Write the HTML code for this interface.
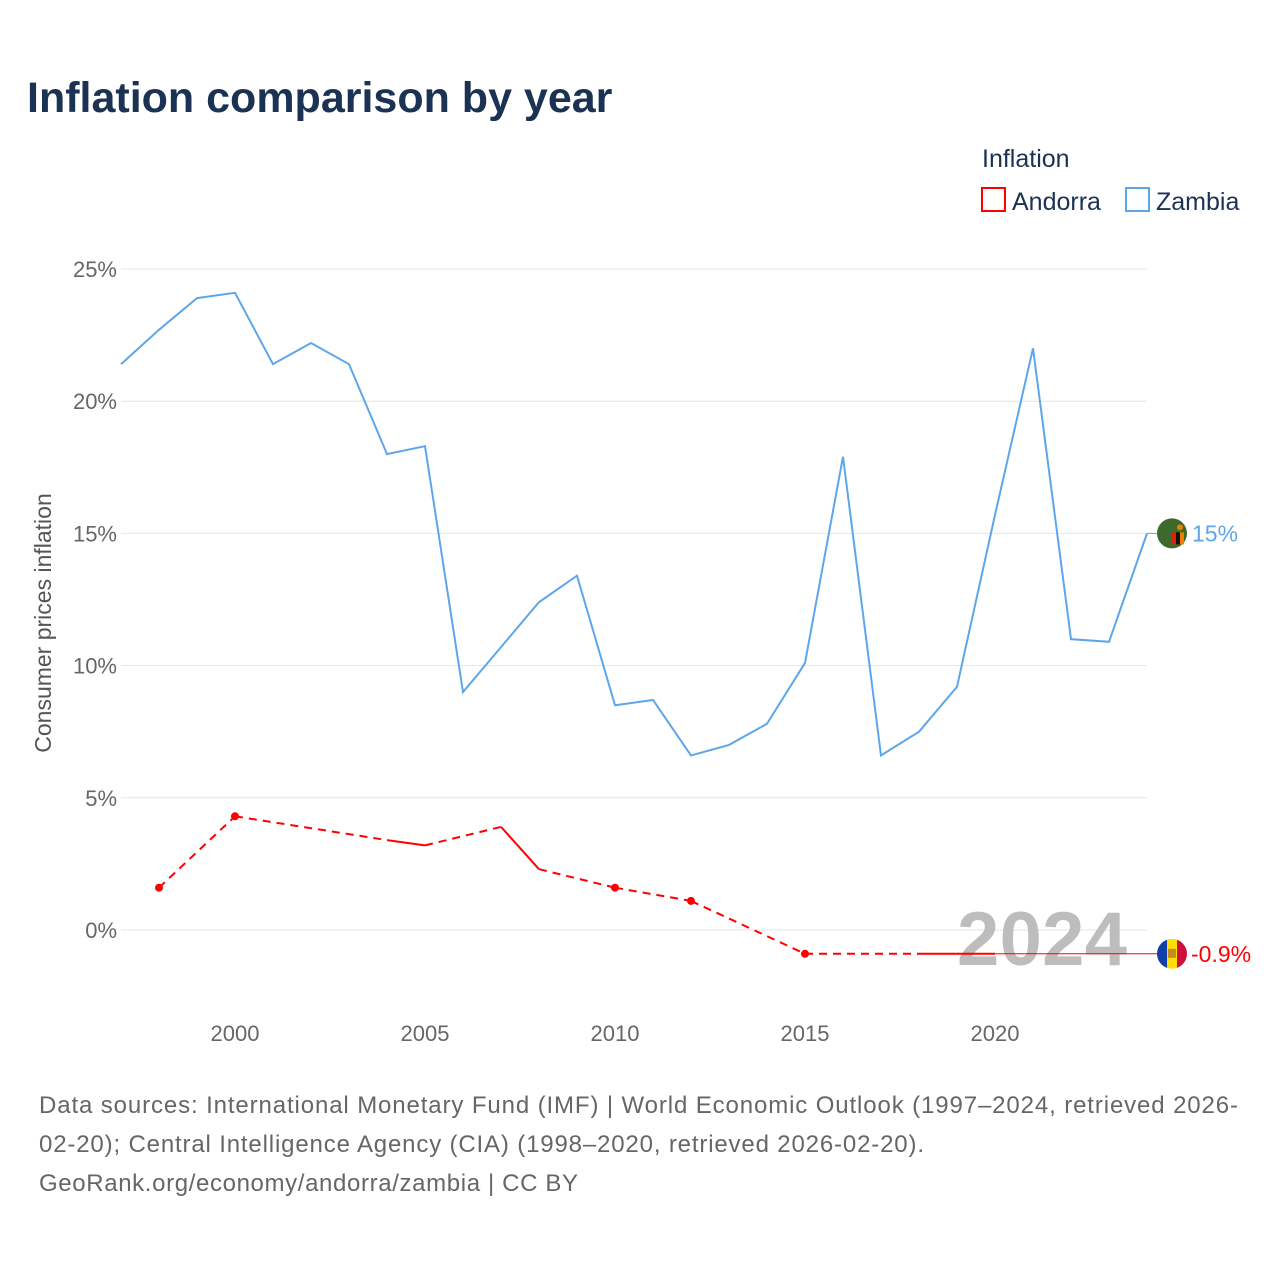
<!DOCTYPE html>
<html><head><meta charset="utf-8"><style>
body{margin:0;background:#fff;font-family:"Liberation Sans",sans-serif;}
#wrap{position:relative;width:1280px;height:1280px;overflow:hidden;}
</style></head><body>
<div id="wrap">
<svg id="chart" width="1280" height="1280">
<text x="27" y="112" font-size="43" font-weight="bold" fill="#1b3254">Inflation comparison by year</text>
<g>
<text x="982" y="167" font-size="25" fill="#1b3254">Inflation</text>
<g><rect x="982" y="188" width="23" height="23" fill="none" stroke="#ff0000" stroke-width="2"/><text x="1012" y="210" font-size="25" fill="#1b3254">Andorra</text></g>
<g><rect x="1126" y="188" width="23" height="23" fill="none" stroke="#5ea6ea" stroke-width="2"/><text x="1156" y="210" font-size="25" fill="#1b3254">Zambia</text></g>
</g>
<g id="grid"></g><g id="axes"></g>
<text x="1127" y="965" font-size="76" font-weight="bold" fill="#bdbdbd" text-anchor="end" textLength="170">2024</text>
<g id="series"></g>
<text transform="translate(51,623) rotate(-90)" font-size="23" fill="#555" text-anchor="middle">Consumer prices inflation</text>
<g font-size="24" fill="#666">
<text x="39" y="1113" textLength="1199">Data sources: International Monetary Fund (IMF) | World Economic Outlook (1997–2024, retrieved 2026-</text>
<text x="39" y="1152" textLength="885">02-20); Central Intelligence Agency (CIA) (1998–2020, retrieved 2026-02-20).</text>
<text x="39" y="1191" textLength="539">GeoRank.org/economy/andorra/zambia | CC BY</text>
</g>
</svg>
</div>
<script>
const yTicks=[0,5,10,15,20,25];
const xTicks=[2000,2005,2010,2015,2020];
const zambiaYears=[1997,1998,1999,2000,2001,2002,2003,2004,2005,2006,2007,2008,2009,2010,2011,2012,2013,2014,2015,2016,2017,2018,2019,2020,2021,2022,2023,2024];
const zambiaValues=[21.4,22.7,23.9,24.1,21.4,22.2,21.4,18.0,18.3,9.0,10.7,12.4,13.4,8.5,8.7,6.6,7.0,7.8,10.1,17.9,6.6,7.5,9.2,15.7,22.0,11.0,10.9,15.0];
const andorraYears=[1998,2000,2004,2005,2007,2008,2010,2012,2015,2018,2019,2020];
const andorraValues=[1.6,4.3,3.4,3.2,3.9,2.3,1.6,1.1,-0.9,-0.9,-0.9,-0.9];
const NS='http://www.w3.org/2000/svg';
const X=y=>121+(y-1997)*38;
const Y=v=>930-v*26.44;
function mk(t,a,p){const e=document.createElementNS(NS,t);for(const k in a)e.setAttribute(k,a[k]);p.appendChild(e);return e;}
const grid=document.getElementById('grid'),axes=document.getElementById('axes'),ser=document.getElementById('series');
yTicks.forEach(v=>{
const l=mk('line',{x1:121,x2:1147,y1:Y(v),y2:Y(v),stroke:'#e6e6e6','stroke-width':1},grid);


const t=mk('text',{x:117,y:Y(v)+8,'font-size':22,fill:'#666','text-anchor':'end'},axes);t.textContent=v+'%';


});
xTicks.forEach(y=>{
const t=mk('text',{x:X(y),y:1041,'font-size':22,fill:'#666','text-anchor':'middle'},axes);t.textContent=y;


});
let d=zambiaYears.map((y,i)=>(i?'L':'M')+X(y)+','+Y(zambiaValues[i])).join('');
const zp=mk('path',{d:d,fill:'none',stroke:'#5ea6ea','stroke-width':2},ser);


for(let i=1;i<andorraYears.length;i++){
const gap=andorraYears[i]-andorraYears[i-1]>1;
const s=mk('line',{x1:X(andorraYears[i-1]),y1:Y(andorraValues[i-1]),x2:X(andorraYears[i]),y2:Y(andorraValues[i]),stroke:'#ff0000','stroke-width':2,'stroke-dasharray':gap?'8,6':'none'},ser);


}
andorraYears.forEach((y,i)=>{
const prevGap=i==0||y-andorraYears[i-1]>1,nextGap=i==andorraYears.length-1||andorraYears[i+1]-y>1;
if(prevGap&&nextGap){const c=mk('circle',{cx:X(y),cy:Y(andorraValues[i]),r:4,fill:'#ff0000'},ser);

}
});
const aLast=andorraValues[andorraValues.length-1],zLast=zambiaValues[zambiaValues.length-1];
const cl=mk('line',{x1:X(andorraYears[andorraYears.length-1]),y1:Y(aLast),x2:1160,y2:Y(aLast),stroke:'#ff0000','stroke-width':1},ser);


const zc=mk('line',{x1:X(2024),y1:Y(zLast),x2:1160,y2:Y(zLast),stroke:'#5ea6ea','stroke-width':1},ser);


const fz=mk('g',{},ser);


mk('circle',{cx:1172,cy:Y(zLast),r:15,fill:'#3d6a2a'},fz);
mk('rect',{x:1172,y:Y(zLast)-1,width:4,height:12,fill:'#de2010'},fz);
mk('rect',{x:1176,y:Y(zLast)-1,width:4,height:12,fill:'#111'},fz);
mk('rect',{x:1180,y:Y(zLast)-1,width:4,height:12,fill:'#ef7d00'},fz);
mk('circle',{cx:1180,cy:Y(zLast)-6,r:3,fill:'#ef7d00'},fz);
const fa=mk('g',{},ser);


mk('clipPath',{id:'ac'},fa);mk('circle',{cx:1172,cy:Y(aLast),r:15},document.getElementById('ac'));
const ag=mk('g',{'clip-path':'url(#ac)'},fa);
mk('rect',{x:1157,y:Y(aLast)-15,width:10,height:30,fill:'#1040a8'},ag);
mk('rect',{x:1167,y:Y(aLast)-15,width:10,height:30,fill:'#fedf00'},ag);
mk('rect',{x:1177,y:Y(aLast)-15,width:10,height:30,fill:'#d0103a'},ag);
mk('rect',{x:1168,y:Y(aLast)-5,width:8,height:9,fill:'#c7881e'},ag);
const zl=mk('text',{x:1192,y:Y(zLast)+8,'font-size':23,fill:'#5ea6ea'},ser);zl.textContent=zLast+'%';


const al=mk('text',{x:1191,y:Y(aLast)+8,'font-size':23,fill:'#ff0000'},ser);al.textContent=aLast+'%';


</script>
</body></html>
